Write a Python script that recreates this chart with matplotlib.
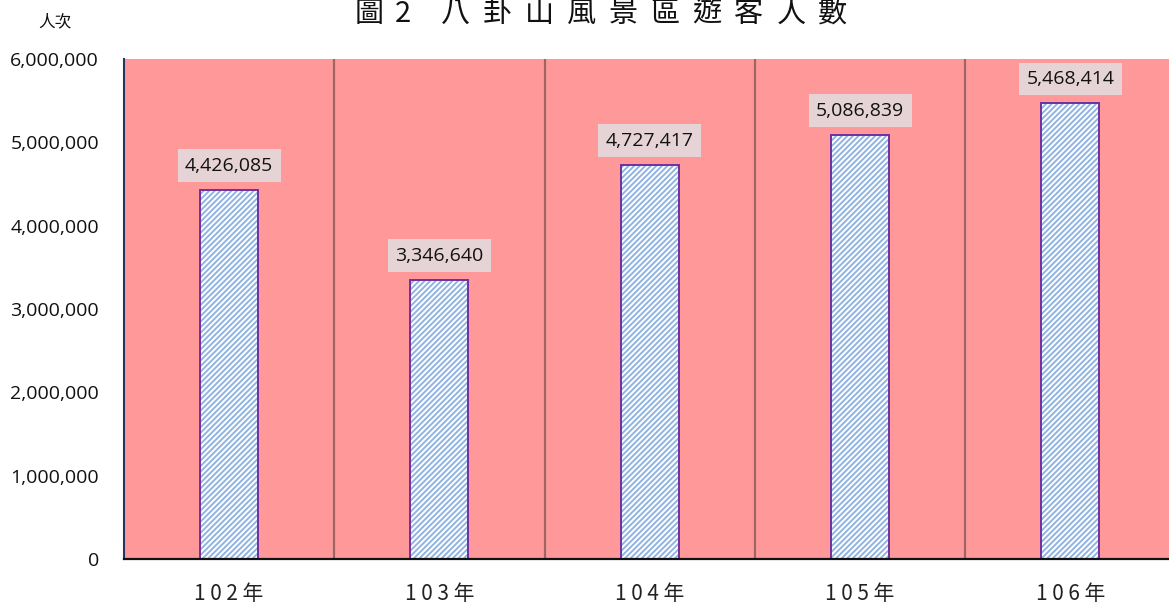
import matplotlib
matplotlib.use("Agg")
import matplotlib.pyplot as plt
from matplotlib.ticker import FuncFormatter

categories = ["102年", "103年", "104年", "105年", "106年"]
visitors = [4426085, 3346640, 4727417, 5086839, 5468414]
yticks = [0, 1000000, 2000000, 3000000, 4000000, 5000000, 6000000]
title_prefix = "圖2"
title_main = "八卦山風景區遊客人數"
unit_label = "人次"

plt.rcParams["hatch.linewidth"] = 1.4

W, H = 1169, 605
fig = plt.figure(figsize=(W / 100, H / 100), dpi=100)
ax = fig.add_axes([124 / W, 46 / H, 1051.5 / W, 500 / H])

ax.set_facecolor("#ff9999")
x = list(range(len(categories)))
bw = 0.276
ax.bar(x, visitors, width=bw, color="white", edgecolor="#8fb4e3", hatch="//////", linewidth=0, zorder=3)
ax.bar(x, visitors, width=bw, fill=False, edgecolor="#7030a0", linewidth=1.4, zorder=4)

num_font = ["Open Sans", "DejaVu Sans"]
for xi, v in zip(x, visitors):
    ax.annotate(f"{v:,}", (xi, v), xytext=(0, 11), textcoords="offset points",
                ha="center", va="bottom", fontsize=14, family=num_font,
                color="#111111", zorder=5,
                bbox=dict(boxstyle="square,pad=0.38", facecolor="#e6d3d6", edgecolor="none"))

ax.set_xlim(-0.5, len(categories) - 0.5)
ax.set_ylim(0, 6000000)
ax.set_yticks(yticks)
ax.yaxis.set_major_formatter(FuncFormatter(lambda v, p: f"{int(v):,}"))
ax.set_xticks(x)
ax.set_xticklabels([" ".join(c) for c in categories], fontsize=15,
                   family=["Noto Sans CJK TC", "DejaVu Sans"], color="#222222")
for lab in ax.get_yticklabels():
    lab.set_fontsize(14)
    lab.set_family(num_font)
    lab.set_color("#111111")
ax.tick_params(axis="both", length=0)
ax.tick_params(axis="y", pad=18)
ax.tick_params(axis="x", pad=17)

for b in [i + 0.5 for i in range(len(categories) - 1)]:
    ax.axvline(b, color="#a06464", linewidth=1.6, zorder=1)

for s in ["top", "right"]:
    ax.spines[s].set_visible(False)
ax.spines["left"].set_color("#1f3864")
ax.spines["left"].set_linewidth(1.5)
ax.spines["bottom"].set_color("#111111")
ax.spines["bottom"].set_linewidth(1.6)
ax.spines["bottom"].set_zorder(6)

# title, spaced characters
cjk = ["Noto Sans CJK TC", "DejaVu Sans"]
ty = 1 - 14 / H
fs_t = 21
fig.text(369 / W, ty, title_prefix[0], ha="center", va="center", fontsize=fs_t, family=cjk, color="#111111")
fig.text(403 / W, ty, title_prefix[1], ha="center", va="center", fontsize=fs_t, family=cjk, color="#111111")
for i, ch in enumerate(title_main):
    fig.text((455 + i * 42.0) / W, ty, ch, ha="center", va="center", fontsize=fs_t,
             family=cjk, color="#111111")

fig.text(55 / W, 1 - 22 / H, unit_label, ha="center", va="center", fontsize=12,
         family=cjk, color="#111111")

fig.savefig("out.png", dpi=100, facecolor="white")
